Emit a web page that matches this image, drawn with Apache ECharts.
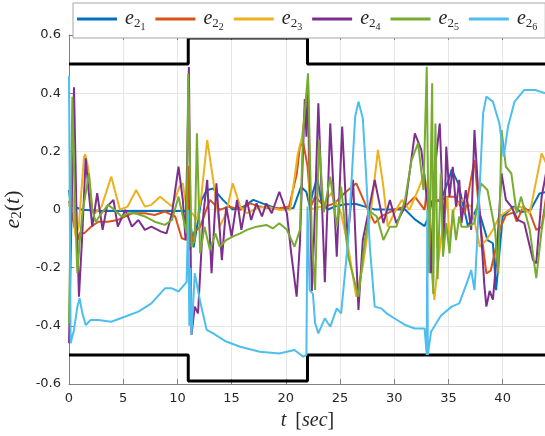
<!DOCTYPE html>
<html>
<head>
<meta charset="utf-8">
<script src="https://cdn.jsdelivr.net/npm/echarts@6/dist/echarts.min.js"></script>
<style>html,body{margin:0;padding:0;background:#fff}#c{width:545px;height:436px}</style>
</head>
<body>
<div id="c"></div>
<script>
// ---- data (t in sec, value) ----
const seriesNames = ['e2_1','e2_2','e2_3','e2_4','e2_5','e2_6'];
const xTicks = [0,5,10,15,20,25,30,35,40];
const yTicks = [-0.6,-0.4,-0.2,0,0.2,0.4,0.6];
const upperBound = [[0,0.5],[11,0.5],[11,0.59],[22,0.59],[22,0.5],[44,0.5]];
const lowerBound = [[0,-0.5],[11,-0.5],[11,-0.59],[22,-0.59],[22,-0.5],[44,-0.5]];

const e21 = [[0,0.067],[0.15,0.016],[0.5,0.01],[1.2,-0.001],[3,-0.005],[6,-0.005],[9,-0.005],[10.8,-0.005],[11.1,-0.02],[11.5,-0.13],[11.8,-0.06],[12.2,0.03],[12.7,0.066],[13.3,0.072],[14.2,0.033],[15.1,0.0],[16.1,0.01],[17.0,0.033],[18.2,0.016],[19.5,0.0],[20.7,0.005],[21.4,0.078],[21.9,0.06],[22.2,0.01],[22.5,0.06],[22.9,0.11],[23.3,0.02],[23.9,0.0],[24.5,0.01],[25.4,0.017],[26.4,0.02],[27.3,0.01],[28.2,0],[30,0],[31,0],[31.9,-0.034],[32.8,-0.057],[33.1,-0.03],[33.5,0.03],[34.3,0.03],[35.0,0.10],[35.3,0.137],[35.9,0.09],[36.8,-0.057],[37.7,0.01],[38.6,-0.105],[39.1,-0.116],[39.4,-0.277],[39.7,-0.15],[40.0,-0.024],[41.0,0.01],[41.7,-0.01],[42.6,0.0],[43.4,0.055],[44,0.06]];

const e22 = [[0,0.03],[0.3,-0.02],[0.5,-0.06],[0.8,-0.105],[1.0,-0.08],[1.4,-0.082],[2,-0.06],[2.7,-0.042],[3.6,-0.042],[4.5,-0.036],[5.8,-0.013],[7.0,-0.013],[7.9,-0.019],[8.85,-0.007],[9.8,-0.024],[10.4,-0.099],[10.85,-0.105],[11.0,0.15],[11.15,-0.14],[11.5,-0.08],[12.1,-0.059],[13.0,0.033],[13.9,-0.001],[14.8,0.01],[15.8,-0.001],[16.7,0.021],[17.6,0.01],[18.5,0.004],[19.4,0.004],[20.3,0.01],[21.0,0.12],[21.3,0.216],[21.6,0.23],[22.0,0.15],[22.3,0.01],[22.7,0.044],[23.6,0.01],[24.5,0.021],[25.4,0.056],[26.5,0.09],[27.3,0.021],[28.2,-0.047],[28.8,-0.024],[30.0,-0.001],[31.0,0.01],[31.9,0.044],[32.8,-0.001],[33.1,0.1],[33.4,-0.15],[33.7,0.03],[34.3,0.033],[35.0,0.044],[35.6,0.044],[36.5,-0.013],[37.4,0.17],[38.0,-0.07],[38.5,-0.22],[38.9,-0.21],[39.4,-0.128],[39.7,-0.07],[40.3,-0.02],[41.0,-0.01],[41.3,-0.042],[41.9,0.01],[42.5,-0.01],[43.1,-0.07],[43.6,-0.06],[44,0.04]];

const e23 = [[0,0.01],[0.3,0.067],[0.6,-0.093],[0.9,-0.059],[1.38,0.18],[1.5,0.19],[1.75,0.147],[2.15,-0.001],[2.4,-0.013],[3.0,0.01],[3.9,0.113],[4.7,-0.001],[5.4,0.01],[6.2,0.067],[7.0,0.01],[7.6,0.016],[8.4,0.044],[9.5,0.01],[10.2,0.079],[10.5,0.09],[11.0,-0.036],[11.3,-0.01],[11.8,-0.036],[12.2,0.044],[12.75,0.239],[13.3,0.102],[13.9,-0.059],[14.5,-0.013],[15.1,0.09],[15.8,0.01],[16.4,-0.013],[17.3,0.004],[18.2,0.01],[19.4,-0.001],[20.4,-0.001],[21.1,0.19],[21.5,0.25],[22.0,0.42],[22.2,0.0],[23.3,0.01],[24.2,0.056],[25.1,-0.013],[25.75,-0.128],[26.5,-0.3],[27.1,-0.196],[27.9,0.01],[28.5,0.205],[29.0,0.079],[29.4,-0.059],[30.0,-0.013],[30.7,0.033],[31.4,-0.001],[32.2,0.067],[32.8,0.124],[33.1,0.0],[33.4,-0.2],[33.7,-0.311],[34.0,-0.2],[34.3,-0.105],[34.9,0.044],[35.1,-0.116],[35.5,0.0],[36.2,0.033],[37.1,0.01],[37.9,-0.128],[38.5,-0.105],[39.1,-0.07],[39.7,-0.024],[40.6,-0.001],[41.6,0.01],[42.5,-0.013],[43.1,0.1],[43.6,0.193],[44,0.16]];

const e24 = [[0,-0.46],[0.46,0.42],[0.68,0.01],[0.92,-0.3],[1.2,-0.105],[1.54,0.176],[1.8,0.067],[2.15,-0.059],[2.6,0.056],[3.1,-0.07],[3.5,0.01],[4.1,0.033],[4.5,-0.059],[5.2,-0.001],[5.8,-0.059],[6.4,-0.036],[7.0,-0.07],[7.6,-0.059],[8.5,-0.076],[9.0,-0.082],[9.5,-0.013],[10.1,0.147],[10.5,0.033],[10.75,-0.105],[11.06,0.49],[11.3,-0.431],[11.6,-0.334],[11.9,-0.357],[12.4,-0.013],[12.75,0.102],[13.15,-0.219],[13.6,0.09],[14.1,-0.174],[14.5,0.01],[15.0,-0.093],[15.5,0.033],[15.9,-0.07],[16.4,0.033],[16.8,-0.036],[17.3,0.021],[17.8,-0.024],[18.2,0.021],[18.7,-0.013],[19.4,0.061],[20.1,-0.013],[20.5,-0.151],[21.0,-0.3],[21.3,-0.116],[21.75,0.38],[21.9,0.25],[22.05,0.434],[22.4,-0.28],[22.6,-0.1],[23.0,0.365],[23.6,-0.25],[24.1,0.296],[24.7,-0.162],[25.2,0.285],[25.7,-0.105],[26.2,0.102],[26.7,-0.345],[27.1,-0.105],[27.6,-0.013],[28.2,0.102],[29.0,-0.047],[29.6,0.033],[30.2,-0.047],[31.0,0.01],[31.9,0.262],[32.5,0.205],[33.1,0.01],[33.4,-0.219],[33.7,0.124],[34.2,0.296],[34.6,-0.105],[34.8,0.216],[35.1,0.044],[35.4,0.147],[35.7,0.01],[36.0,0.102],[36.2,-0.047],[36.6,0.067],[37.1,-0.07],[37.4,0.273],[37.7,0.09],[38.0,-0.07],[38.3,-0.254],[38.5,-0.334],[38.8,-0.28],[39.1,-0.31],[39.4,-0.185],[39.9,0.124],[40.3,0.033],[40.8,0.01],[41.4,-0.036],[42.0,-0.047],[42.8,-0.174],[43.1,-0.185],[43.6,0.044],[44,0.124]];

const e25 = [[0,-0.391],[0.31,0.388],[0.55,0.01],[0.77,-0.219],[1.0,-0.105],[1.23,-0.013],[1.84,0.124],[2.15,-0.001],[2.46,-0.042],[3.0,-0.013],[3.6,0.016],[4.2,-0.001],[4.85,-0.024],[5.5,-0.013],[6.1,-0.013],[7.0,-0.024],[7.9,-0.042],[8.85,-0.053],[9.5,-0.036],[10.1,0.044],[10.5,-0.024],[10.85,-0.082],[11.0,0.468],[11.3,-0.128],[11.6,-0.105],[11.8,0.262],[12.1,-0.151],[12.5,-0.059],[13.0,-0.139],[13.5,-0.082],[13.9,-0.128],[14.5,-0.105],[15.1,-0.093],[15.8,-0.082],[16.4,-0.07],[17.3,-0.059],[18.2,-0.053],[18.8,-0.065],[19.4,-0.047],[20.1,-0.07],[20.8,-0.128],[21.3,-0.07],[21.6,0.27],[22.05,0.468],[22.4,-0.1],[22.7,-0.277],[23.05,0.24],[23.5,-0.01],[24.1,0.113],[24.7,-0.059],[25.1,0.079],[25.75,-0.162],[26.7,-0.3],[27.3,-0.105],[27.75,-0.007],[28.4,-0.024],[29.0,-0.105],[29.6,-0.059],[30.2,-0.059],[31.0,0.033],[31.6,0.17],[32.2,0.228],[32.7,0.067],[33.0,0.491],[33.2,-0.219],[33.5,0.434],[33.6,-0.29],[33.8,0.296],[34.0,-0.24],[34.3,0.124],[34.5,-0.162],[34.8,-0.047],[35.1,-0.151],[35.4,-0.001],[35.7,-0.105],[36.0,-0.024],[36.2,-0.059],[36.8,-0.059],[37.4,-0.047],[38.0,0.09],[38.6,0.067],[39.3,-0.07],[39.6,-0.22],[39.9,0.273],[40.3,0.147],[40.8,0.124],[41.3,-0.013],[41.7,0.044],[42.5,-0.07],[43.1,-0.236],[43.6,-0.07],[44,0.02]];

const e26 = [[0,0.46],[0.08,0.46],[0.15,-0.46],[0.46,-0.414],[0.77,-0.334],[0.98,-0.305],[1.23,-0.357],[1.54,-0.397],[2.0,-0.38],[2.7,-0.38],[3.9,-0.386],[5.2,-0.368],[6.4,-0.351],[7.6,-0.323],[8.85,-0.271],[9.5,-0.271],[10.1,-0.282],[10.85,-0.25],[11.0,-0.001],[11.1,-0.4],[11.2,-0.2],[11.3,-0.431],[11.6,-0.219],[12.07,-0.311],[12.7,-0.414],[13.3,-0.426],[14.5,-0.454],[15.8,-0.472],[17.6,-0.489],[19.4,-0.495],[20.8,-0.483],[21.6,-0.506],[21.9,-0.5],[22.0,0.01],[22.2,-0.277],[22.5,-0.29],[22.7,-0.39],[23.0,-0.426],[23.6,-0.374],[24.1,-0.403],[24.7,-0.34],[25.1,-0.357],[25.75,-0.105],[26.4,0.319],[26.7,0.371],[27.1,0.314],[27.4,0.124],[27.75,-0.128],[28.2,-0.334],[28.8,-0.34],[29.3,-0.357],[30.0,-0.374],[31.0,-0.397],[31.9,-0.409],[32.8,-0.409],[33.0,-0.5],[33.05,-0.001],[33.1,-0.5],[33.4,-0.42],[34.3,-0.365],[35.3,-0.334],[36.0,-0.323],[36.8,-0.242],[37.1,-0.208],[37.4,-0.277],[37.5,-0.219],[37.9,0.09],[38.2,0.331],[38.5,0.388],[39.1,0.371],[39.7,0.296],[40.1,0.182],[40.5,0.285],[41.1,0.371],[42.0,0.411],[43.0,0.411],[43.9,0.4],[44,0.4]];

const seriesData = [e21,e22,e23,e24,e25,e26];
const colors = ['#0072BD','#D95319','#EDB120','#7E2F8E','#77AC30','#4DBEEE'];

const chart = echarts.init(document.getElementById('c'), null, {renderer:'canvas'});
const mathFont = 'Liberation Serif';
const series = [];
series.push({name:'upper', type:'line', data:upperBound, showSymbol:false, lineStyle:{color:'#000',width:3}, z:1, silent:true});
series.push({name:'lower', type:'line', data:lowerBound, showSymbol:false, lineStyle:{color:'#000',width:3}, z:1, silent:true});
seriesNames.forEach((n,i)=>{
  series.push({name:n, type:'line', data:seriesData[i], showSymbol:false, symbol:'none', color:colors[i],
    lineStyle:{color:colors[i], width:2}, z:2+i, animation:false});
});

chart.setOption({
  animation:false,
  backgroundColor:'#fff',
  grid:{left:69, top:35, right:-1, bottom:52, containLabel:false, outerBoundsMode:'none'},
  legend:{
    data:seriesNames, left:73, top:3, width:520, icon:'rect', itemWidth:40, itemHeight:3, itemGap:10,
    padding:[6,8,6,4], borderColor:'#a6a6a6', borderWidth:1, backgroundColor:'#fff',
    textStyle:{fontFamily:mathFont, color:'#262626', padding:[0,0,0,3],
      rich:{e:{fontFamily:mathFont,fontStyle:'italic',fontSize:20,color:'#262626'},
            s:{fontFamily:mathFont,fontSize:13,color:'#262626',padding:[9,0,0,0]},
            ss:{fontFamily:mathFont,fontSize:10,color:'#262626',padding:[16,0,0,0]}}},
    formatter:(n)=>'{e|e}{s|'+n.charAt(1)+'}{ss|'+n.charAt(3)+'}'
  },
  xAxis:[{
    type:'value', min:0, max:44, interval:5, position:'bottom',
    axisLine:{show:true, onZero:false, lineStyle:{color:'#808080', width:1}},
    axisTick:{show:true, inside:true, length:5, lineStyle:{color:'#808080'}},
    axisLabel:{fontFamily:'DejaVu Sans', fontSize:13, color:'#262626', margin:8, showMaxLabel:false, alignMinLabel:'center',
      formatter:(v)=> xTicks.indexOf(v)>=0 ? String(v) : ''},
    splitLine:{show:true, lineStyle:{color:'#e6e6e6', width:1}},
    name:'{i|t}{sp| }{r|[}{i|sec}{r|]}', nameLocation:'middle', nameGap:27,
    nameTextStyle:{rich:{i:{fontFamily:mathFont,fontStyle:'italic',fontSize:20,color:'#262626'},
                         sp:{fontFamily:mathFont,fontSize:20,width:9},
                         r:{fontFamily:mathFont,fontSize:20,color:'#262626'}}}
  },{
    type:'value', min:0, max:44, interval:5, position:'top',
    axisLine:{show:true, onZero:false, lineStyle:{color:'#808080', width:1}},
    axisTick:{show:true, inside:true, length:5, lineStyle:{color:'#808080'}},
    axisLabel:{show:false}, splitLine:{show:false}
  }],
  yAxis:{
    type:'value', min:-0.6, max:0.6, interval:0.2,
    axisLine:{show:true, onZero:false, lineStyle:{color:'#808080', width:1}},
    axisTick:{show:true, inside:true, length:5, lineStyle:{color:'#808080'}},
    axisLabel:{fontFamily:'DejaVu Sans', fontSize:13, color:'#262626', margin:8,
      formatter:(v)=>{ const r=Math.round(v*10)/10; return Math.abs(r)<1e-9?'0':r.toFixed(1);} },
    splitLine:{show:true, lineStyle:{color:'#e6e6e6', width:1}},
    name:'{e|e}{s|2}{r|(}{e|t}{r|)}', nameLocation:'middle', nameGap:38, nameRotate:90,
    nameTextStyle:{rich:{e:{fontFamily:mathFont,fontStyle:'italic',fontSize:22,color:'#262626'},
                         s:{fontFamily:mathFont,fontSize:15,color:'#262626',padding:[9,0,0,0]},
                         r:{fontFamily:mathFont,fontSize:22,color:'#262626'}}}
  },
  series:series
});
</script>
</body>
</html>
